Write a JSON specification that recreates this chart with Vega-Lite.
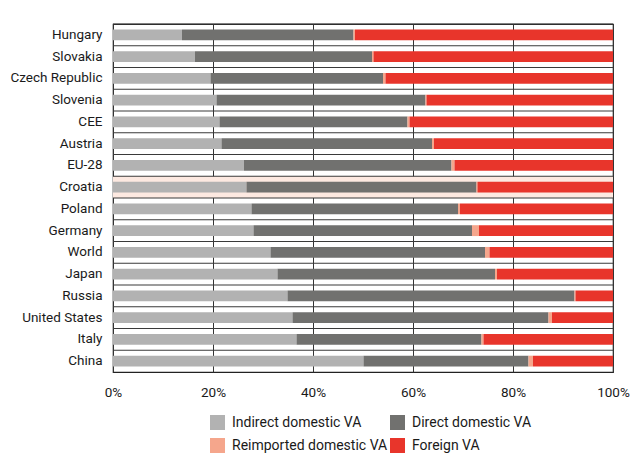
{
  "$schema": "https://vega.github.io/schema/vega-lite/v6.json",
  "autosize": "none",
  "width": 500,
  "height": 348,
  "padding": {"left": 113, "top": 24, "right": 20, "bottom": 84},
  "background": "white",
  "config": {
    "font": "Roboto",
    "view": {"stroke": "#222222", "strokeWidth": 1.2},
    "axis": {"labelFont": "Roboto", "labelFontSize": 13.5, "labelColor": "#1a1a1a", "domain": false, "ticks": false}
  },
  "datasets": {
    "va": [
      {"country": "Hungary", "component": "Indirect domestic VA", "value": 13.8},
      {"country": "Hungary", "component": "Direct domestic VA", "value": 34.3},
      {"country": "Hungary", "component": "Reimported domestic VA", "value": 0.3},
      {"country": "Hungary", "component": "Foreign VA", "value": 51.6},
      {"country": "Slovakia", "component": "Indirect domestic VA", "value": 16.4},
      {"country": "Slovakia", "component": "Direct domestic VA", "value": 35.4},
      {"country": "Slovakia", "component": "Reimported domestic VA", "value": 0.3},
      {"country": "Slovakia", "component": "Foreign VA", "value": 47.9},
      {"country": "Czech Republic", "component": "Indirect domestic VA", "value": 19.5},
      {"country": "Czech Republic", "component": "Direct domestic VA", "value": 34.5},
      {"country": "Czech Republic", "component": "Reimported domestic VA", "value": 0.5},
      {"country": "Czech Republic", "component": "Foreign VA", "value": 45.5},
      {"country": "Slovenia", "component": "Indirect domestic VA", "value": 20.7},
      {"country": "Slovenia", "component": "Direct domestic VA", "value": 41.8},
      {"country": "Slovenia", "component": "Reimported domestic VA", "value": 0.2},
      {"country": "Slovenia", "component": "Foreign VA", "value": 37.3},
      {"country": "CEE", "component": "Indirect domestic VA", "value": 21.3},
      {"country": "CEE", "component": "Direct domestic VA", "value": 37.6},
      {"country": "CEE", "component": "Reimported domestic VA", "value": 0.4},
      {"country": "CEE", "component": "Foreign VA", "value": 40.7},
      {"country": "Austria", "component": "Indirect domestic VA", "value": 21.7},
      {"country": "Austria", "component": "Direct domestic VA", "value": 42.1},
      {"country": "Austria", "component": "Reimported domestic VA", "value": 0.4},
      {"country": "Austria", "component": "Foreign VA", "value": 35.8},
      {"country": "EU-28", "component": "Indirect domestic VA", "value": 26.2},
      {"country": "EU-28", "component": "Direct domestic VA", "value": 41.5},
      {"country": "EU-28", "component": "Reimported domestic VA", "value": 0.6},
      {"country": "EU-28", "component": "Foreign VA", "value": 31.7},
      {"country": "Croatia", "component": "Indirect domestic VA", "value": 26.7},
      {"country": "Croatia", "component": "Direct domestic VA", "value": 46.0},
      {"country": "Croatia", "component": "Reimported domestic VA", "value": 0.2},
      {"country": "Croatia", "component": "Foreign VA", "value": 27.1},
      {"country": "Poland", "component": "Indirect domestic VA", "value": 27.7},
      {"country": "Poland", "component": "Direct domestic VA", "value": 41.3},
      {"country": "Poland", "component": "Reimported domestic VA", "value": 0.4},
      {"country": "Poland", "component": "Foreign VA", "value": 30.6},
      {"country": "Germany", "component": "Indirect domestic VA", "value": 28.1},
      {"country": "Germany", "component": "Direct domestic VA", "value": 43.7},
      {"country": "Germany", "component": "Reimported domestic VA", "value": 1.4},
      {"country": "Germany", "component": "Foreign VA", "value": 26.8},
      {"country": "World", "component": "Indirect domestic VA", "value": 31.5},
      {"country": "World", "component": "Direct domestic VA", "value": 42.9},
      {"country": "World", "component": "Reimported domestic VA", "value": 0.9},
      {"country": "World", "component": "Foreign VA", "value": 24.7},
      {"country": "Japan", "component": "Indirect domestic VA", "value": 32.9},
      {"country": "Japan", "component": "Direct domestic VA", "value": 43.5},
      {"country": "Japan", "component": "Reimported domestic VA", "value": 0.4},
      {"country": "Japan", "component": "Foreign VA", "value": 23.2},
      {"country": "Russia", "component": "Indirect domestic VA", "value": 34.9},
      {"country": "Russia", "component": "Direct domestic VA", "value": 57.4},
      {"country": "Russia", "component": "Reimported domestic VA", "value": 0.2},
      {"country": "Russia", "component": "Foreign VA", "value": 7.5},
      {"country": "United States", "component": "Indirect domestic VA", "value": 35.9},
      {"country": "United States", "component": "Direct domestic VA", "value": 51.2},
      {"country": "United States", "component": "Reimported domestic VA", "value": 0.7},
      {"country": "United States", "component": "Foreign VA", "value": 12.2},
      {"country": "Italy", "component": "Indirect domestic VA", "value": 36.7},
      {"country": "Italy", "component": "Direct domestic VA", "value": 37.0},
      {"country": "Italy", "component": "Reimported domestic VA", "value": 0.4},
      {"country": "Italy", "component": "Foreign VA", "value": 25.9},
      {"country": "China", "component": "Indirect domestic VA", "value": 50.1},
      {"country": "China", "component": "Direct domestic VA", "value": 33.0},
      {"country": "China", "component": "Reimported domestic VA", "value": 0.9},
      {"country": "China", "component": "Foreign VA", "value": 16.0}
    ],
    "highlight": [{"country": "Croatia"}],
    "rows": [
      {"country": "Hungary"}, {"country": "Slovakia"}, {"country": "Czech Republic"}, {"country": "Slovenia"},
      {"country": "CEE"}, {"country": "Austria"}, {"country": "EU-28"}, {"country": "Croatia"},
      {"country": "Poland"}, {"country": "Germany"}, {"country": "World"}, {"country": "Japan"},
      {"country": "Russia"}, {"country": "United States"}, {"country": "Italy"}, {"country": "China"}
    ]
  },
  "layer": [
    {
      "data": {"name": "highlight"},
      "mark": {"type": "rect", "color": "#fde9e1"},
      "encoding": {
        "y": {"field": "country", "type": "nominal"}
      }
    },
    {
      "data": {"name": "rows"},
      "mark": {"type": "rect", "color": "#3a3a3a", "height": 1.2, "yOffset": -10.875},
      "encoding": {
        "y": {"field": "country", "type": "nominal"}
      }
    },
    {
      "data": {"name": "va"},
      "transform": [
        {"calculate": "indexof(['Indirect domestic VA','Direct domestic VA','Reimported domestic VA','Foreign VA'], datum.component)", "as": "ord"}
      ],
      "mark": {"type": "bar", "height": {"band": 0.5}},
      "encoding": {
        "y": {
          "field": "country",
          "type": "nominal",
          "title": null,
          "scale": {
            "domain": ["Hungary", "Slovakia", "Czech Republic", "Slovenia", "CEE", "Austria", "EU-28", "Croatia", "Poland", "Germany", "World", "Japan", "Russia", "United States", "Italy", "China"],
            "paddingInner": 0,
            "paddingOuter": 0
          },
          "axis": {"grid": false, "labelPadding": 11}
        },
        "x": {
          "field": "value",
          "type": "quantitative",
          "stack": "zero",
          "title": null,
          "scale": {"domain": [0, 100], "nice": false},
          "axis": {"values": [0, 20, 40, 60, 80, 100], "grid": true, "gridColor": "#333333", "gridWidth": 1, "labelExpr": "datum.value + '%'", "labelPadding": 13, "labelFlush": false}
        },
        "color": {
          "field": "component",
          "type": "nominal",
          "scale": {
            "domain": ["Indirect domestic VA", "Direct domestic VA", "Reimported domestic VA", "Foreign VA"],
            "range": ["#b2b2b2", "#71716f", "#f5a68c", "#e8352b"]
          },
          "legend": {
            "title": null,
            "orient": "none",
            "legendX": 97,
            "legendY": 391,
            "direction": "horizontal",
            "columns": 2,
            "columnPadding": 2,
            "rowPadding": 8,
            "symbolType": "square",
            "symbolSize": 225,
            "symbolStrokeWidth": 0,
            "symbolOpacity": 1,
            "labelFont": "Roboto",
            "labelFontSize": 14,
            "labelLimit": 300,
            "labelColor": "#1a1a1a",
            "labelOffset": 7
          }
        },
        "order": {"field": "ord", "type": "quantitative"}
      }
    }
  ]
}
